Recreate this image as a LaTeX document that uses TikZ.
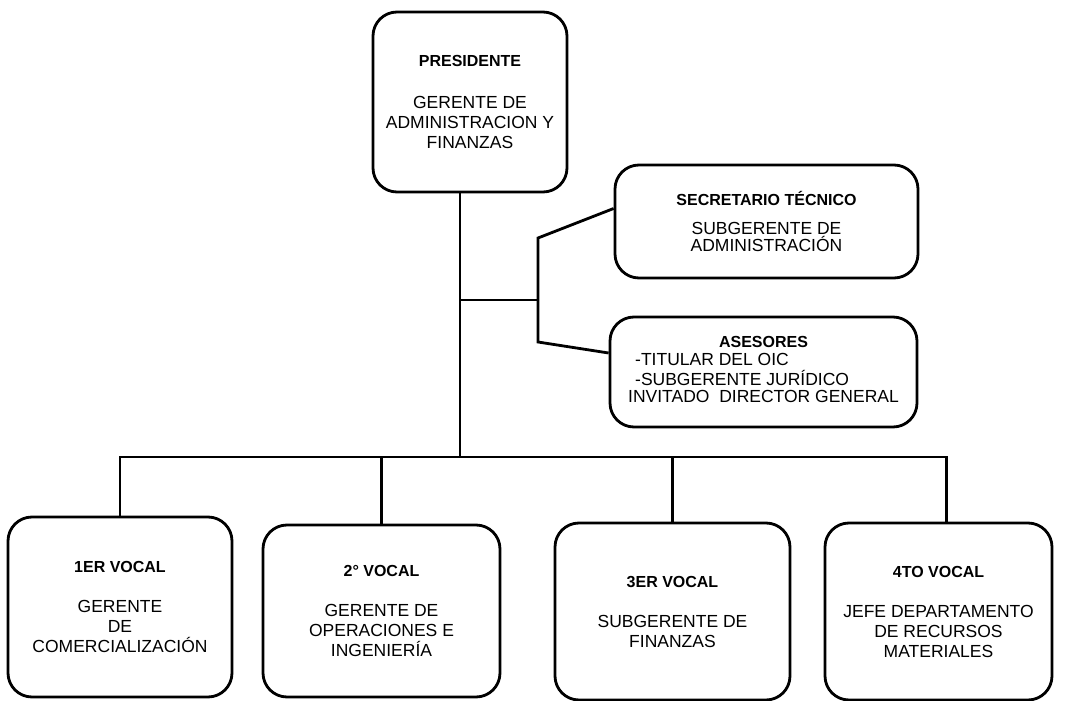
\documentclass[tikz,border=0pt]{standalone}
\usepackage{fontspec}
\setmainfont{Liberation Sans}
\usetikzlibrary{positioning}
\newcommand{\boxtitle}[1]{{\fontsize{16}{18}\selectfont\bfseries #1}}

\begin{document}
\begin{tikzpicture}[x=1pt, y=-1pt,
	box/.style={draw, line width=2.8pt, rounded corners=24pt, align=center, inner sep=0pt, font=\fontsize{17.5}{20}\selectfont},
	wire/.style={line width=2.8pt}]
	\useasboundingbox (0,0) rectangle (1066,701);
	
	%top box
	\node[box, minimum width=194pt, minimum height=180pt] (pres) at (470,102) {\boxtitle{PRESIDENTE}\\[22pt]GERENTE DE\\ADMINISTRACION Y\\FINANZAS};
	
	%side boxes
	\node[box, minimum width=303pt, minimum height=113pt, font=\fontsize{17.5}{15}\selectfont] (sec) at (766.5,221.5) {\boxtitle{SECRETARIO TÉCNICO}\\[14pt]SUBGERENTE DE\\ADMINISTRACIÓN};
	\node[box, minimum width=307pt, minimum height=110pt, font=\fontsize{17.5}{17}\selectfont] (ase) at (763.5,372) {\begin{tabular}{@{}l@{}}\multicolumn{1}{@{}c@{}}{\boxtitle{ASESORES}}\\\hspace{7pt}-TITULAR DEL OIC\\\hspace{7pt}-SUBGERENTE JURÍDICO\\INVITADO\ \ DIRECTOR GENERAL\end{tabular}};
	
	%vocales
	\node[box, minimum width=224pt, minimum height=180pt] (v1) at (120,607) {\boxtitle{1ER VOCAL}\\[20pt]GERENTE\\DE\\COMERCIALIZACIÓN};
	\node[box, minimum width=237pt, minimum height=172pt] (v2) at (381.5,611) {\boxtitle{2° VOCAL}\\[20pt]GERENTE DE\\OPERACIONES E\\INGENIERÍA};
	\node[box, minimum width=235pt, minimum height=177pt] (v3) at (672.5,611.5) {\boxtitle{3ER VOCAL}\\[20pt]SUBGERENTE DE\\FINANZAS};
	\node[box, minimum width=227pt, minimum height=177pt] (v4) at (938.5,611.5) {\boxtitle{4TO VOCAL}\\[20pt]JEFE DEPARTAMENTO\\DE RECURSOS\\MATERIALES};
	
	%lines
	\coordinate (jn) at (460,300);
	\coordinate (bus) at (460,457);
	\coordinate (forkT) at (538,238);
	\coordinate (forkB) at (538,342);
	\draw[wire] (pres.south -| jn) -- (bus);
	\draw[wire] (jn) -- (forkT |- jn);
	\draw[wire] ([yshift=13pt]sec.west) -- (forkT) -- (forkB) -- ([yshift=19pt]ase.west);
	\draw[wire] (v1.north) |- ([xshift=8pt]v4.north |- bus) -- ([xshift=8pt]v4.north);
	\draw[wire] (v2.north) -- (v2.north |- bus);
	\draw[wire] (v3.north) -- (v3.north |- bus);
	
\end{tikzpicture}
\end{document}
